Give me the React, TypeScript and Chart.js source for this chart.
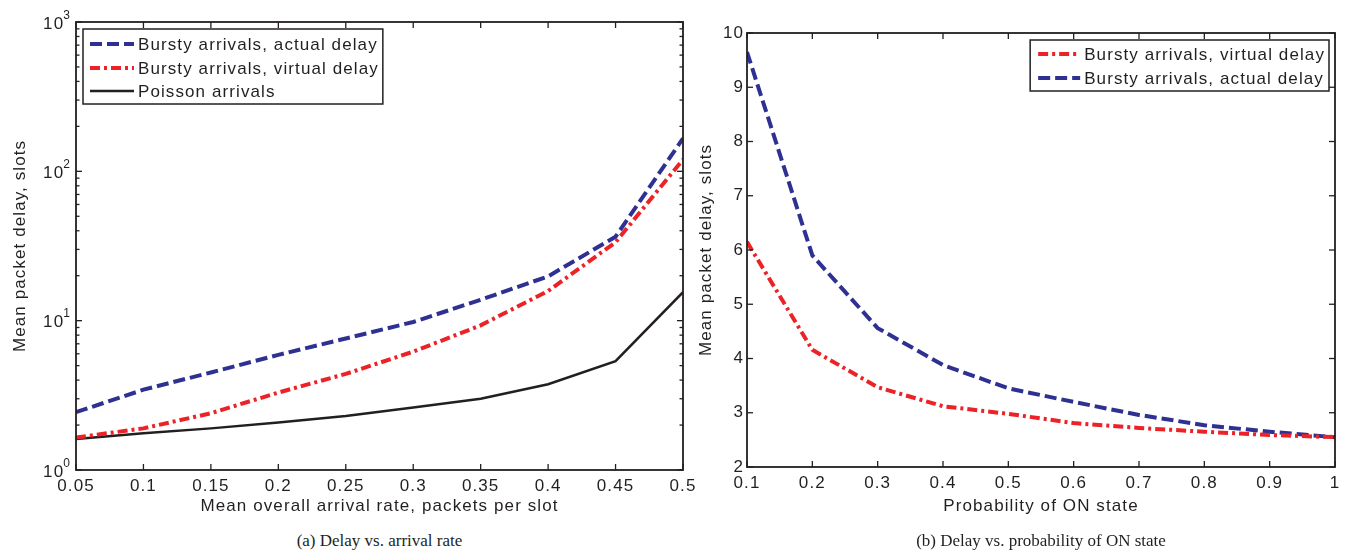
import React, { useEffect, useRef } from 'react';
import { Chart, registerables } from 'chart.js';

Chart.register(...registerables);

const FONT = '"Liberation Sans", Arial, Helvetica, sans-serif';
const LS = '1.1px';
const INK = '#231f20';
const BLUE = '#2e3192';
const RED = '#ec2227';

// ---- chart (a): delay vs arrival rate ----
const rateX = [0.05, 0.1, 0.15, 0.2, 0.25, 0.3, 0.35, 0.4, 0.45, 0.5];
const actualA = [2.44, 3.45, 4.5, 5.9, 7.6, 9.8, 13.8, 19.8, 36.5, 166];
const virtualA = [1.65, 1.9, 2.4, 3.3, 4.4, 6.2, 9.3, 15.8, 33.5, 120];
const poissonA = [1.61, 1.76, 1.9, 2.08, 2.3, 2.62, 3.0, 3.75, 5.35, 15.5];
const rateTicks = [0.05, 0.1, 0.15, 0.2, 0.25, 0.3, 0.35, 0.4, 0.45, 0.5];
const logMajor = [1, 10, 100, 1000];
const logMinor = [2, 3, 4, 5, 6, 7, 8, 9, 20, 30, 40, 50, 60, 70, 80, 90, 200, 300, 400, 500, 600, 700, 800, 900];

// ---- chart (b): delay vs probability of ON state ----
const probX = [0.1, 0.2, 0.3, 0.4, 0.5, 0.6, 0.7, 0.8, 0.9, 1.0];
const virtualB = [6.15, 4.16, 3.47, 3.12, 2.98, 2.81, 2.72, 2.65, 2.59, 2.55];
const actualB = [9.65, 5.9, 4.56, 3.88, 3.45, 3.2, 2.96, 2.77, 2.65, 2.55];
const probTicks = [0.1, 0.2, 0.3, 0.4, 0.5, 0.6, 0.7, 0.8, 0.9, 1.0];
const linMajor = [2, 3, 4, 5, 6, 7, 8, 9, 10];

const DASH_ACTUAL = [12, 5];
const DASH_VIRTUAL = [10, 4, 3, 4];

const fmt = (v: number) => String(Number(v.toFixed(2)));

type LegendCfg = { anchor: 'left' | 'right'; dx: number; dy: number; rowOffsets: number[]; lineStart: number; lineEnd: number; textStart: number; height: number };

function framePlugin(xTicks: number[], yMajor: number[], yMinor: number[], logLabels: boolean, legend: LegendCfg) {
  return {
    id: 'frame',
    beforeLayout(chart: any) { chart.ctx.letterSpacing = LS; },
    beforeDraw(chart: any) { chart.ctx.letterSpacing = LS; },
    afterDraw(chart: any) {
      const ctx = chart.ctx as CanvasRenderingContext2D;
      const { left, right, top, bottom } = chart.chartArea;
      const xs = chart.scales.x;
      const ys = chart.scales.y;
      ctx.save();
      (ctx as any).letterSpacing = LS;
      ctx.strokeStyle = INK;
      ctx.lineWidth = 1.8;
      ctx.strokeRect(left, top, right - left, bottom - top);
      const seg = (x1: number, y1: number, x2: number, y2: number) => {
        ctx.beginPath(); ctx.moveTo(x1, y1); ctx.lineTo(x2, y2); ctx.stroke();
      };
      ctx.lineWidth = 1.3;
      for (const v of xTicks) {
        const px = xs.getPixelForValue(v);
        seg(px, bottom, px, bottom - 6);
        seg(px, top, px, top + 6);
      }
      for (const v of yMajor) {
        const py = ys.getPixelForValue(v);
        seg(left, py, left + 6, py);
        seg(right, py, right - 6, py);
      }
      for (const v of yMinor) {
        const py = ys.getPixelForValue(v);
        seg(left, py, left + 3.5, py);
        seg(right, py, right - 3.5, py);
      }
      if (logLabels) {
        ctx.fillStyle = INK;
        for (const v of yMajor) {
          const py = ys.getPixelForValue(v);
          const exp = String(Math.round(Math.log10(v)));
          ctx.font = `12px ${FONT}`;
          const ew = ctx.measureText(exp).width;
          const xr = left - 5;
          ctx.textAlign = 'left';
          ctx.textBaseline = 'alphabetic';
          ctx.fillText(exp, xr - ew, py - 3.5);
          ctx.font = `17px ${FONT}`;
          ctx.textAlign = 'right';
          ctx.fillText('10', xr - ew + 1, py + 6.5);
        }
      }
      // legend
      ctx.font = `17px ${FONT}`;
      const ds = chart.data.datasets;
      let maxW = 0;
      for (const d of ds) maxW = Math.max(maxW, ctx.measureText(d.label).width);
      const w = legend.textStart + maxW + 4;
      const bx = legend.anchor === 'left' ? left + legend.dx : right - legend.dx - w;
      const by = top + legend.dy;
      ctx.fillStyle = '#ffffff';
      ctx.fillRect(bx, by, w, legend.height);
      ctx.lineWidth = 1.5;
      ctx.strokeStyle = INK;
      ctx.setLineDash([]);
      ctx.strokeRect(bx, by, w, legend.height);
      ds.forEach((d: any, i: number) => {
        const ry = by + legend.rowOffsets[i];
        ctx.save();
        ctx.strokeStyle = d.borderColor;
        ctx.lineWidth = d.borderWidth;
        ctx.setLineDash(d.borderDash || []);
        seg(bx + legend.lineStart, ry, bx + legend.lineEnd, ry);
        ctx.restore();
        ctx.fillStyle = INK;
        ctx.textAlign = 'left';
        ctx.textBaseline = 'middle';
        ctx.fillText(d.label, bx + legend.textStart, ry + 1);
      });
      ctx.restore();
    },
  };
}

const line = (label: string, xs: number[], ys: number[], color: string, width: number, dash: number[]) => ({
  label,
  data: xs.map((x, i) => ({ x, y: ys[i] })),
  borderColor: color,
  backgroundColor: color,
  borderWidth: width,
  borderDash: dash,
  pointRadius: 0,
  fill: false,
  tension: 0,
});

function configA(): any {
  return {
    type: 'line',
    data: {
      datasets: [
        line('Bursty arrivals, actual delay', rateX, actualA, BLUE, 4, DASH_ACTUAL),
        line('Bursty arrivals, virtual delay', rateX, virtualA, RED, 4, DASH_VIRTUAL),
        line('Poisson arrivals', rateX, poissonA, INK, 2.5, []),
      ],
    },
    options: {
      animation: false,
      responsive: false,
      layout: { padding: { left: 0, top: 22, right: 20, bottom: 5 } },
      plugins: { legend: { display: false }, tooltip: { enabled: false } },
      scales: {
        x: {
          type: 'linear', min: 0.05, max: 0.5,
          afterBuildTicks: (s: any) => { s.ticks = rateTicks.map((v) => ({ value: v })); },
          afterFit: (s: any) => { s.height = 50; },
          ticks: { callback: (v: number) => fmt(v), padding: 6, maxRotation: 0, autoSkip: false, color: INK },
          grid: { display: false, drawTicks: false }, border: { display: false },
          title: { display: true, text: 'Mean overall arrival rate, packets per slot', color: INK, padding: { top: 0, bottom: 3 } },
        },
        y: {
          type: 'logarithmic', min: 1, max: 1000,
          afterFit: (s: any) => { s.width = 76; },
          ticks: { display: false },
          grid: { display: false, drawTicks: false }, border: { display: false },
          title: { display: true, text: 'Mean packet delay, slots', color: INK, padding: { top: 10, bottom: 0 } },
        },
      },
    },
    plugins: [framePlugin(rateTicks, logMajor, logMinor, true, { anchor: 'left', dx: 7, dy: 7, rowOffsets: [15, 39, 62], lineStart: 7, lineEnd: 51, textStart: 55, height: 75 })],
  };
}

function configB(): any {
  return {
    type: 'line',
    data: {
      datasets: [
        line('Bursty arrivals, virtual delay', probX, virtualB, RED, 4, DASH_VIRTUAL),
        line('Bursty arrivals, actual delay', probX, actualB, BLUE, 4, DASH_ACTUAL),
      ],
    },
    options: {
      animation: false,
      responsive: false,
      layout: { padding: { left: 0, top: 33, right: 12, bottom: 5 } },
      plugins: { legend: { display: false }, tooltip: { enabled: false } },
      scales: {
        x: {
          type: 'linear', min: 0.1, max: 1,
          afterBuildTicks: (s: any) => { s.ticks = probTicks.map((v) => ({ value: v })); },
          afterFit: (s: any) => { s.height = 53; },
          ticks: { callback: (v: number) => fmt(v), padding: 6, maxRotation: 0, autoSkip: false, color: INK },
          grid: { display: false, drawTicks: false }, border: { display: false },
          title: { display: true, text: 'Probability of ON state', color: INK, padding: { top: 0, bottom: 3 } },
        },
        y: {
          type: 'linear', min: 2, max: 10,
          afterBuildTicks: (s: any) => { s.ticks = linMajor.map((v) => ({ value: v })); },
          afterFit: (s: any) => { s.width = 52; },
          ticks: { padding: 3, color: INK, autoSkip: false },
          grid: { display: false, drawTicks: false }, border: { display: false },
          title: { display: true, text: 'Mean packet delay, slots', color: INK, padding: { top: 1, bottom: 0 } },
        },
      },
    },
    plugins: [framePlugin(probTicks, linMajor, [], false, { anchor: 'right', dx: 6, dy: 7, rowOffsets: [14, 38], lineStart: 8, lineEnd: 50, textStart: 54, height: 51 })],
  };
}

function ChartCanvas({ make, left, width, height }: { make: () => any; left: number; width: number; height: number }) {
  const ref = useRef<HTMLCanvasElement | null>(null);
  useEffect(() => {
    if (!ref.current) return;
    const chart = new Chart(ref.current, make());
    return () => chart.destroy();
  }, [make]);
  return (
    <canvas ref={ref} width={width} height={height}
      style={{ position: 'absolute', left, top: 0, width, height, display: 'block' }} />
  );
}

export default function App() {
  Chart.defaults.font.family = FONT;
  Chart.defaults.font.size = 17;
  Chart.defaults.color = INK;
  const caption: React.CSSProperties = {
    position: 'absolute', top: 530, fontFamily: '"Liberation Serif", "Times New Roman", serif',
    fontSize: 17, color: INK, textAlign: 'center', lineHeight: '22px', whiteSpace: 'nowrap',
  };
  return (
    <div style={{ position: 'absolute', left: 0, top: 0, width: 1347, height: 552, background: '#fff', overflow: 'hidden' }}>
      <ChartCanvas make={configA} left={0} width={703} height={525} />
      <ChartCanvas make={configB} left={695} width={652} height={525} />
      <div style={{ ...caption, left: 76, width: 607 }}>(a) Delay vs. arrival rate</div>
      <div style={{ ...caption, left: 747, width: 588 }}>(b) Delay vs. probability of ON state</div>
    </div>
  );
}
